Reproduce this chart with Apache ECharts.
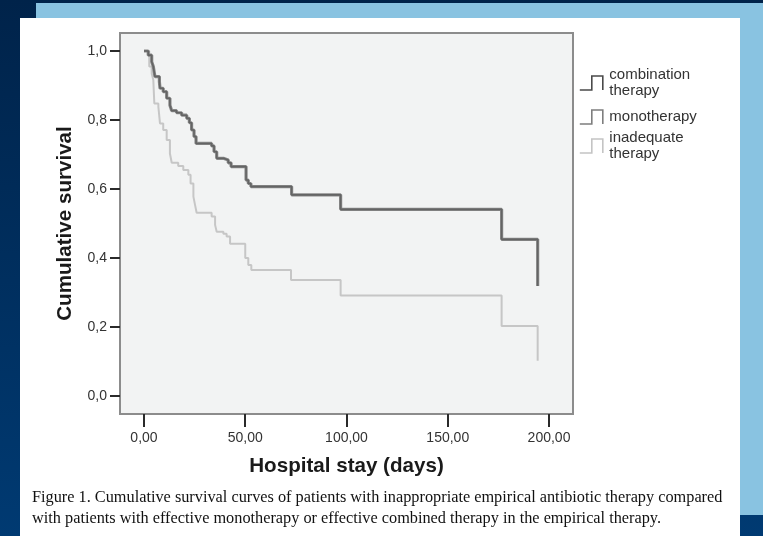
<!DOCTYPE html>
<html>
<head>
<meta charset="utf-8">
<script src="https://cdn.jsdelivr.net/npm/echarts@6/dist/echarts.min.js"></script>
<style>
  html, body { margin: 0; padding: 0; width: 763px; height: 536px; overflow: hidden; }
  body { position: relative; background: linear-gradient(#00234a, #003a72); }
  .bg { position: absolute; }
  #chart { position: absolute; left: 0; top: 0; width: 763px; height: 536px; }
</style>
</head>
<body>
<div class="bg" style="left:36px;top:3px;width:727px;height:512px;background:#89c3e1;"></div>
<div class="bg" style="left:20px;top:18px;width:720px;height:518px;background:#ffffff;"></div>
<div id="chart"></div>
<script>
// ---- data ----
const seriesNames = ['combination therapy', 'monotherapy', 'inadequate therapy'];

const comboDays = [0, 2.1, 3.8, 4.6, 5.4, 7.6, 7.9, 9.5, 11.2, 12.8, 13.7, 16.1, 18.6, 21.1, 22.4, 23.5, 24.7, 25.7, 33.4, 34.6, 35.9, 39.2, 41.6, 43.0, 50.4, 51.5, 52.8, 72.9, 97.1, 176.6, 194.4];
const comboSurv = [1.0, 0.988, 0.969, 0.955, 0.926, 0.911, 0.892, 0.882, 0.863, 0.843, 0.827, 0.821, 0.814, 0.805, 0.792, 0.771, 0.752, 0.732, 0.725, 0.708, 0.689, 0.684, 0.676, 0.665, 0.626, 0.616, 0.607, 0.583, 0.541, 0.454, 0.319];

const monoDays = [0, 2.1, 3.8, 4.6, 5.4, 7.6, 7.9, 9.5, 11.2, 12.8, 13.7, 16.1, 18.6, 21.1, 22.4, 23.5, 24.7, 25.7, 33.4, 34.6, 35.9, 39.2, 41.6, 43.0, 50.4, 51.5, 52.8, 72.9, 97.1, 176.6, 194.4];
const monoSurv = [1.0, 0.988, 0.969, 0.955, 0.926, 0.911, 0.892, 0.882, 0.863, 0.843, 0.827, 0.821, 0.814, 0.805, 0.792, 0.771, 0.752, 0.732, 0.725, 0.708, 0.689, 0.684, 0.676, 0.665, 0.626, 0.616, 0.607, 0.583, 0.541, 0.454, 0.319];

const inadDays = [0, 2.6, 3.8, 4.6, 5.1, 7.1, 7.9, 9.5, 11.2, 12.8, 13.7, 16.9, 19.4, 21.9, 23.0, 24.4, 25.2, 26.0, 33.4, 35.1, 35.9, 39.2, 40.8, 42.5, 50.0, 51.5, 53.0, 72.6, 97.1, 176.6, 194.4];
const inadSurv = [1.0, 0.955, 0.935, 0.916, 0.848, 0.838, 0.790, 0.771, 0.742, 0.703, 0.676, 0.667, 0.655, 0.641, 0.616, 0.578, 0.554, 0.531, 0.520, 0.496, 0.476, 0.470, 0.462, 0.441, 0.400, 0.380, 0.365, 0.336, 0.291, 0.203, 0.102];

const xTicks = [0, 50, 100, 150, 200];
const xTickLabels = ['0,00', '50,00', '100,00', '150,00', '200,00'];
const yTicks = [0, 0.2, 0.4, 0.6, 0.8, 1.0];
const yTickLabels = ['0,0', '0,2', '0,4', '0,6', '0,8', '1,0'];

const xTitle = 'Hospital stay (days)';
const yTitle = 'Cumulative survival';
const captionLines = [
  'Figure 1. Cumulative survival curves of patients with inappropriate empirical antibiotic therapy compared',
  'with patients with effective monotherapy or effective combined therapy in the empirical therapy.'
];
const legendLabels = ['combination\ntherapy', 'monotherapy', 'inadequate\ntherapy'];

// ---- build ----
function pairs(xs, ys) { return xs.map((x, i) => [x, ys[i]]); }
const FONT = '"Liberation Sans", Arial, Helvetica, sans-serif';
const SERIF = '"Liberation Serif", "Times New Roman", serif';

const chart = echarts.init(document.getElementById('chart'), null, { renderer: 'canvas' });

const stepIcon = 'path://M0,14 L12,14 L12,0 L23,0 L23,14';
const legendColors = ['#4a4a4a', '#7e7e7e', '#c4c4c4'];
const legendTops = [62, 104, 125];

function makeLegend(i) {
  return {
    show: true,
    left: 574,
    top: legendTops[i],
    orient: 'vertical',
    icon: stepIcon,
    itemWidth: 24,
    itemHeight: 14,
    itemGap: 6,
    selectedMode: false,
    data: [{ name: seriesNames[i], itemStyle: { color: 'rgba(0,0,0,0)', borderColor: legendColors[i], borderWidth: 1.6 } }],
    formatter: () => legendLabels[i],
    textStyle: { fontFamily: FONT, fontSize: 15, color: '#333', lineHeight: 16, padding: [0, 0, 0, 1] }
  };
}

const option = {
  animation: false,
  backgroundColor: 'transparent',
  grid: {
    left: 120, top: 33, width: 453, height: 381,
    show: true, backgroundColor: '#f2f3f3', borderColor: '#8c8c8c', borderWidth: 2
  },
  legend: [makeLegend(0), makeLegend(1), makeLegend(2)],
  xAxis: {
    type: 'value',
    min: -11.85, max: 211.85,
    splitLine: { show: false },
    axisLine: { show: false, onZero: false },
    axisTick: { show: true, inside: false, length: 13, customValues: xTicks, lineStyle: { color: '#2a2a2a', width: 2 } },
    axisLabel: {
      show: true, customValues: xTicks, margin: 17,
      formatter: (v) => xTickLabels[xTicks.indexOf(v)],
      fontFamily: FONT, fontSize: 14, color: '#333'
    },
    name: xTitle, nameLocation: 'middle', nameGap: 42,
    nameTextStyle: { fontFamily: FONT, fontSize: 20.6, fontWeight: 'bold', color: '#1a1a1a' }
  },
  yAxis: {
    type: 'value',
    min: -0.0522, max: 1.0522,
    splitLine: { show: false },
    axisLine: { show: false, onZero: false },
    axisTick: { show: true, inside: false, length: 10, customValues: yTicks, lineStyle: { color: '#2a2a2a', width: 2 } },
    axisLabel: {
      show: true, customValues: yTicks, margin: 13,
      formatter: (v) => { let k = yTicks.findIndex(t => Math.abs(t - v) < 1e-6); return k >= 0 ? yTickLabels[k] : ''; },
      fontFamily: FONT, fontSize: 14, color: '#333'
    },
    name: yTitle, nameLocation: 'middle', nameGap: 44, nameRotate: 90,
    nameTextStyle: { fontFamily: FONT, fontSize: 20.6, fontWeight: 'bold', color: '#1a1a1a' }
  },
  series: [
    {
      name: seriesNames[2], type: 'line', step: 'end', showSymbol: false, symbol: 'none',
      data: pairs(inadDays, inadSurv), lineStyle: { color: '#c6c6c6', width: 2 }, itemStyle: { color: '#c6c6c6' }, z: 2
    },
    {
      name: seriesNames[1], type: 'line', step: 'end', showSymbol: false, symbol: 'none',
      data: pairs(monoDays, monoSurv), lineStyle: { color: '#8a8a8a', width: 3.2 }, itemStyle: { color: '#8a8a8a' }, z: 3
    },
    {
      name: seriesNames[0], type: 'line', step: 'end', showSymbol: false, symbol: 'none',
      data: pairs(comboDays, comboSurv), lineStyle: { color: '#646464', width: 1.6 }, itemStyle: { color: '#646464' }, z: 4
    }
  ],
  graphic: [
    { type: 'text', left: 32, top: 490, style: { text: captionLines[0], fontFamily: SERIF, fontSize: 16.3, fill: '#111' } },
    { type: 'text', left: 32, top: 511, style: { text: captionLines[1], fontFamily: SERIF, fontSize: 16.3, fill: '#111' } }
  ]
};
chart.setOption(option);
</script>
</body>
</html>
